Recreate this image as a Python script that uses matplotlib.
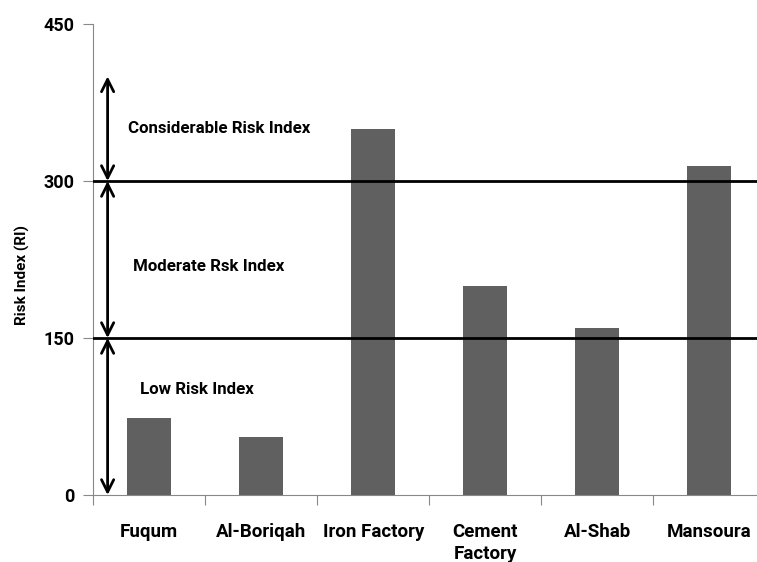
import numpy as np
from matplotlib import pyplot as plt

# Data
sites = ['Fuqum', 'Al-Boriqah', 'Iron Factory', 'Cement\nFactory', 'Al-Shab', 'Mansoura']
risk_index = [74, 55, 350, 200, 160, 314]
thresholds = [150, 300]
zones = ['Low Risk Index', 'Moderate Rsk Index', 'Considerable Risk Index']
zone_text_x = [-0.08, -0.143, -0.19]
zone_text_y = [101, 218, 350]
arrow_spans = [(0, 150), (150, 300), (300, 400)]

plt.rcParams['font.family'] = ['Roboto', 'DejaVu Sans']

fig = plt.figure(figsize=(7.57, 5.62), dpi=100)
ax = fig.add_axes([0.1229, 0.1192, 0.888, 0.838])

x = np.arange(len(sites))
ax.bar(x, risk_index, width=0.39, color='#606060', zorder=2)

for t in thresholds:
    ax.axhline(t, color='black', linewidth=2, zorder=3)

for lo, hi in arrow_spans:
    ax.annotate('', xy=(-0.37, hi), xytext=(-0.37, lo),
                arrowprops=dict(arrowstyle='<->', color='black', lw=2,
                                mutation_scale=22, shrinkA=0, shrinkB=0),
                zorder=4)

for label, tx, ty in zip(zones, zone_text_x, zone_text_y):
    ax.text(tx, ty, label, fontsize=12.2, fontweight='bold',
            va='center', ha='left')

ax.set_xlim(-0.5, len(sites) - 0.5)
ax.set_ylim(0, 450)
ax.set_yticks([0, 150, 300, 450])
ax.set_yticklabels(['0', '150', '300', '450'], fontsize=13, fontweight='bold')
ax.set_xticks(np.arange(len(sites) + 1) - 0.5)
ax.set_xticklabels([])
ax.set_xticks(x, minor=True)
ax.set_xticklabels(sites, minor=True, fontsize=13.5, fontweight='bold',
                   linespacing=1.3, va='top')
ax.tick_params(axis='x', which='minor', length=0, pad=20)
ax.tick_params(axis='x', which='major', length=7, color='#888888', direction='out')
ax.tick_params(axis='y', length=7, color='#888888', direction='out', pad=6)

ax.set_ylabel('Risk Index (RI)', fontsize=11, fontweight='bold')
ax.yaxis.set_label_coords(-0.094, 0.467)

for side in ['top', 'right']:
    ax.spines[side].set_visible(False)
for side in ['left', 'bottom']:
    ax.spines[side].set_color('#888888')

fig.savefig('out.png', dpi=100)
